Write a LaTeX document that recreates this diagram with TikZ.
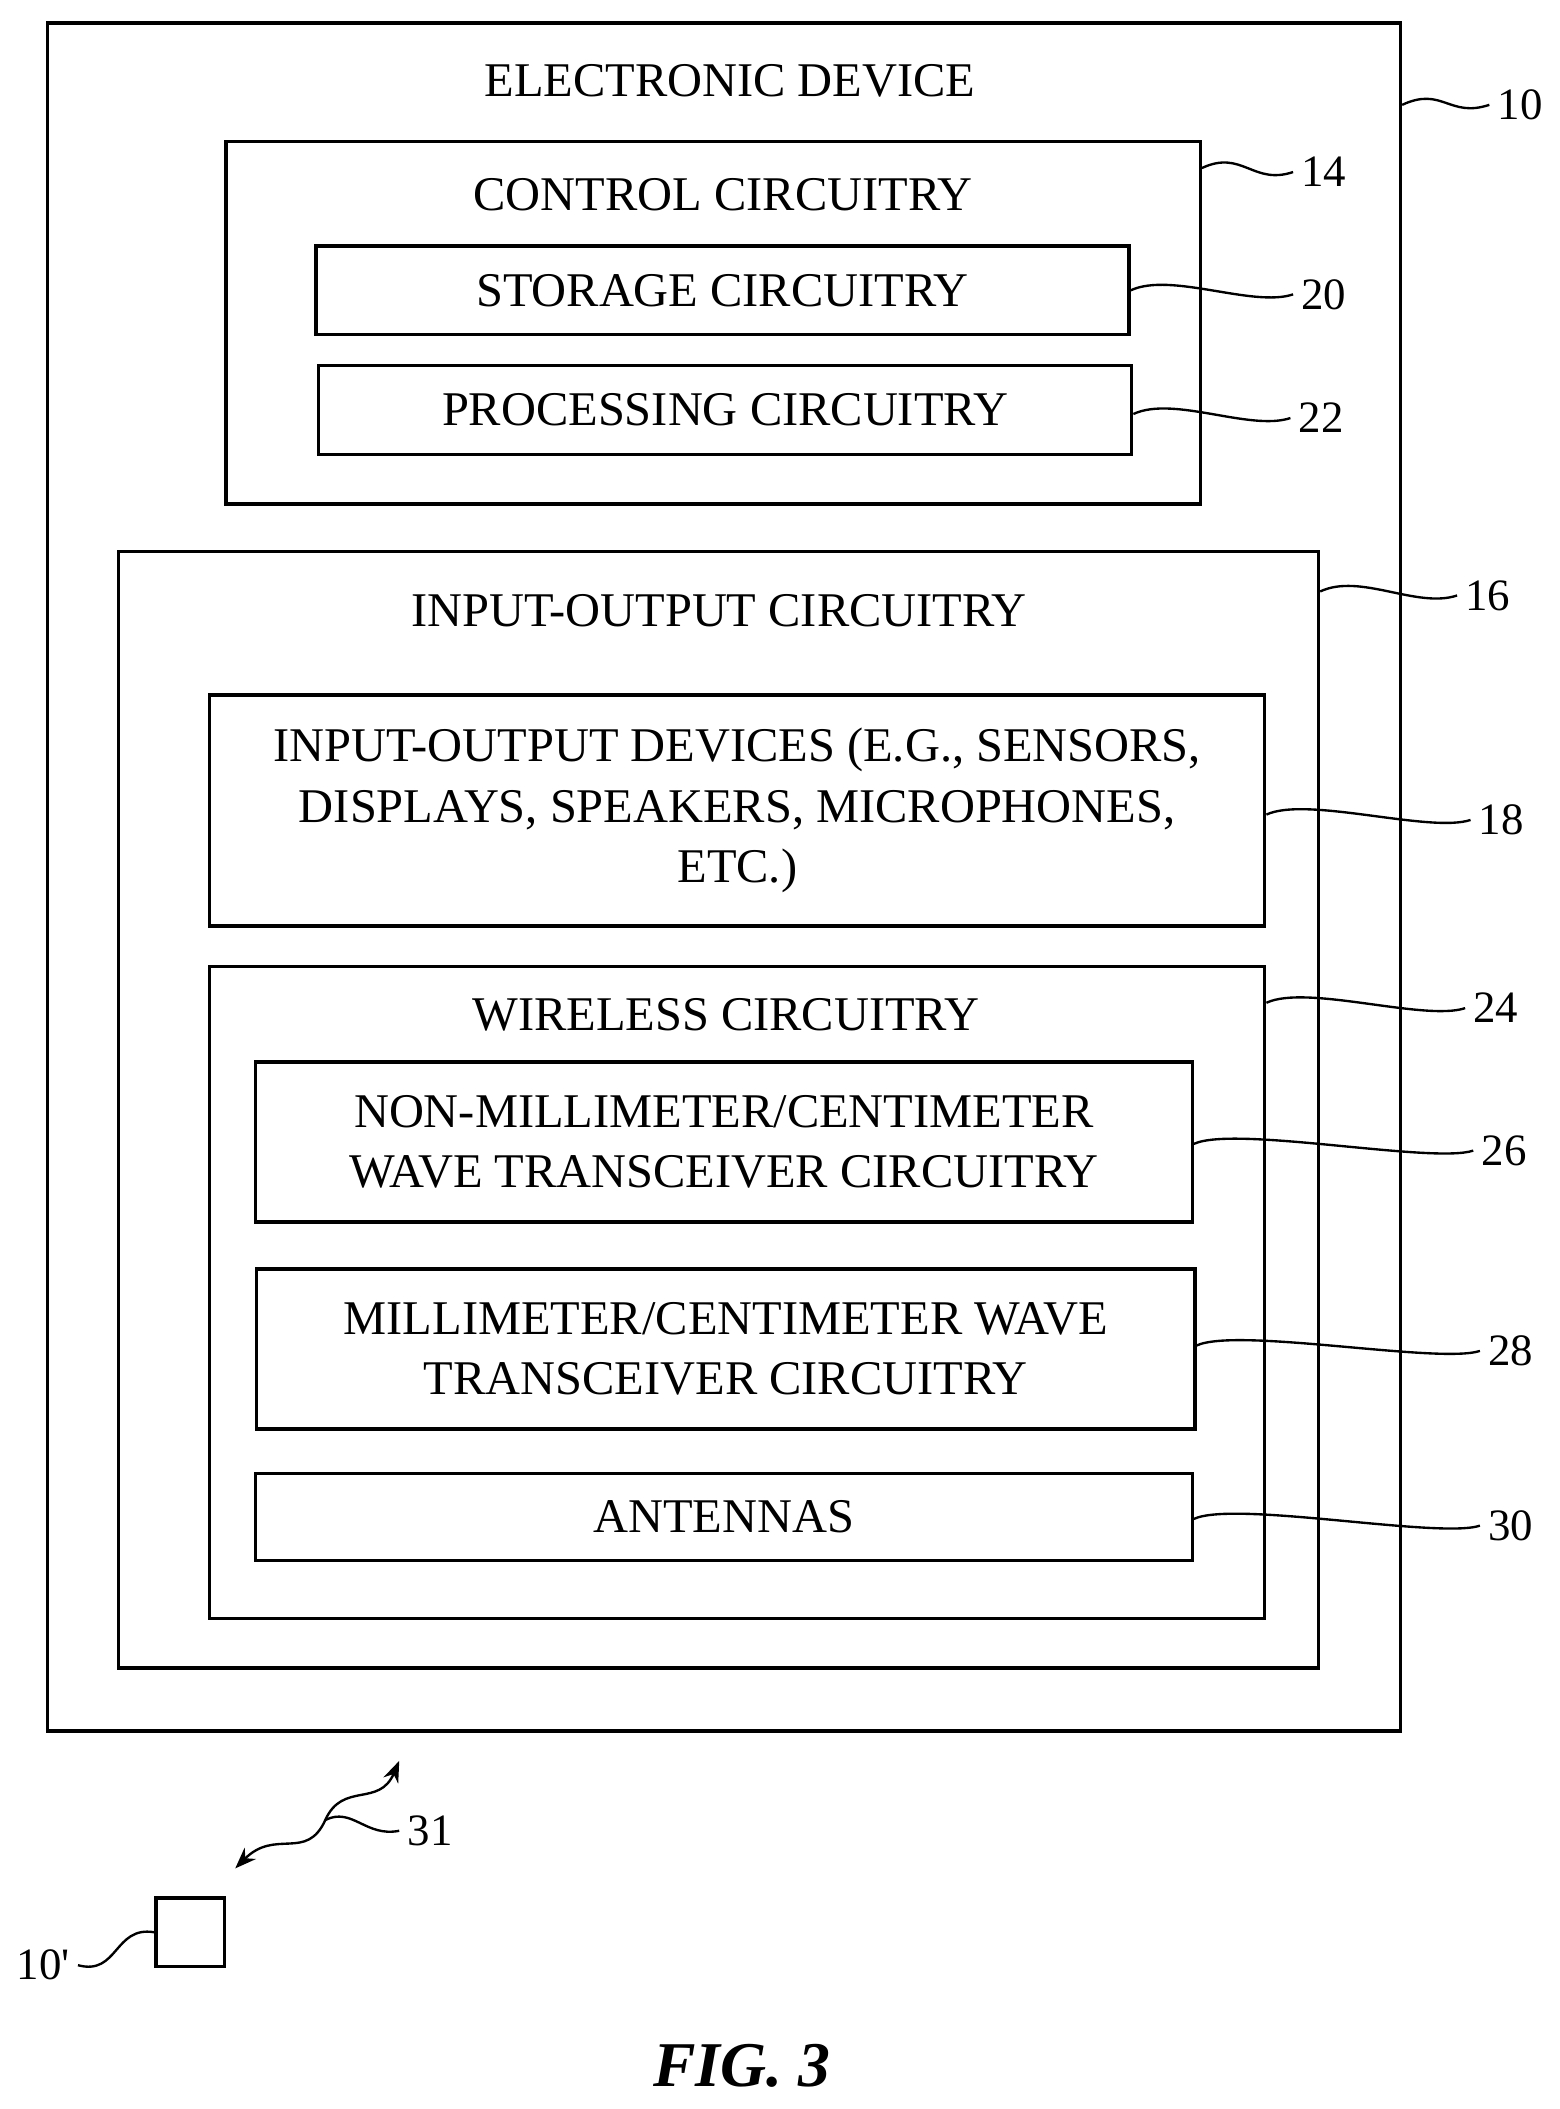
\documentclass[tikz,border=0pt]{standalone}
\usepackage{fontspec}
\setmainfont{Liberation Serif}
\usetikzlibrary{arrows.meta}
\tikzset{
  box/.style={draw, line width=1.4pt, inner sep=0pt},
  txt/.style={align=center, font=\fontsize{20.5}{25.5}\selectfont},
  num/.style={font=\fontsize{19}{22}\selectfont},
  lead/.style={line width=1pt},
}
\begin{document}
\begin{tikzpicture}[x=0.02cm,y=-0.02cm]
    \useasboundingbox (0,0) rectangle (1160,1569);
    % boxes
    \node[box, minimum width=20.14cm, minimum height=25.42cm] (dev) at (538.5,652.5) {};
    \node[box, minimum width=14.5cm, minimum height=5.4cm] (ctrl) at (530.5,240) {};
    \node[box, minimum width=12.1cm, minimum height=1.32cm] (stor) at (537.5,216) {};
    \node[box, minimum width=12.1cm, minimum height=1.32cm] (proc) at (539.5,305) {};
    \node[box, minimum width=17.86cm, minimum height=16.62cm] (io) at (534.5,825.5) {};
    \node[box, minimum width=15.7cm, minimum height=3.44cm] (iodev) at (548.5,603) {};
    \node[box, minimum width=15.7cm, minimum height=9.7cm] (wl) at (548.5,961.5) {};
    \node[box, minimum width=13.94cm, minimum height=2.38cm] (nonmm) at (538.5,849.5) {};
    \node[box, minimum width=13.96cm, minimum height=2.38cm] (mm) at (540,1003.5) {};
    \node[box, minimum width=13.94cm, minimum height=1.3cm] (ant) at (538.5,1128.5) {};
    \node[box, minimum width=1.02cm, minimum height=1.02cm] (remote) at (141.5,1437.5) {};

    % texts
    \node[txt] (devt) at (543,60) {ELECTRONIC DEVICE};
    \node[txt] (ctrlt) at (538,145) {CONTROL CIRCUITRY};
    \node[txt] (stort) at (stor) {STORAGE CIRCUITRY};
    \node[txt] (proct) at (proc) {PROCESSING CIRCUITRY};
    \node[txt] (iot) at (535,454) {INPUT-OUTPUT CIRCUITRY};
    \node[txt] (iodevt) at (iodev) {INPUT-OUTPUT DEVICES (E.G., SENSORS,\\DISPLAYS, SPEAKERS, MICROPHONES,\\ETC.)};
    \node[txt] (wlt) at (540,755) {WIRELESS CIRCUITRY};
    \node[txt] (nonmmt) at (nonmm) {NON-MILLIMETER/CENTIMETER\\WAVE TRANSCEIVER CIRCUITRY};
    \node[txt] (mmt) at (mm) {MILLIMETER/CENTIMETER WAVE\\TRANSCEIVER CIRCUITRY};
    \node[txt] (antt) at (ant) {ANTENNAS};
    \node[font=\fontsize{27}{30}\selectfont\bfseries\itshape] (fig) at (552,1537) {FIG. 3};

    % reference numerals
    \node[num, anchor=west] (n10) at (1108,78) {10};
    \node[num, anchor=west] (n14) at (962,128) {14};
    \node[num, anchor=west] (n20) at (962,219) {20};
    \node[num, anchor=west] (n22) at (960,311) {22};
    \node[num, anchor=west] (n16) at (1084,443) {16};
    \node[num, anchor=west] (n18) at (1094,610) {18};
    \node[num, anchor=west] (n24) at (1090,750) {24};
    \node[num, anchor=west] (n26) at (1096,856) {26};
    \node[num, anchor=west] (n28) at (1101,1005) {28};
    \node[num, anchor=west] (n30) at (1101,1135) {30};
    \node[num, anchor=west] (n31) at (297,1362) {31};
    \node[num, anchor=east] (n10p) at (58,1462) {10\textquotesingle};

    % leaders
    \foreach \b/\n/\y in {dev/n10/78, ctrl/n14/125, stor/n20/216, proc/n22/308, io/n16/440,
                          iodev/n18/606, wl/n24/746, nonmm/n26/851, mm/n28/1001, ant/n30/1130} {
        \draw[lead] (\b.east |- 0,\y) .. controls +(30,-14) and +(-30,10) .. (\n.west);
    }
    \draw[lead] (n10p.east) .. controls +(30,8) and +(-30,-5) .. (remote.west);

    % wireless link
    \coordinate (linkmid) at (242,1354);
    \draw[line width=1pt, {Stealth[length=9pt]}-{Stealth[length=9pt]}] (175,1390)
        .. controls (205,1360) and (228,1385) .. (linkmid)
        .. controls (255,1325) and (282,1345) .. (297,1310);
    \draw[lead] (linkmid) .. controls +(20,-10) and +(-25,5) .. (n31.west);
\end{tikzpicture}
\end{document}
